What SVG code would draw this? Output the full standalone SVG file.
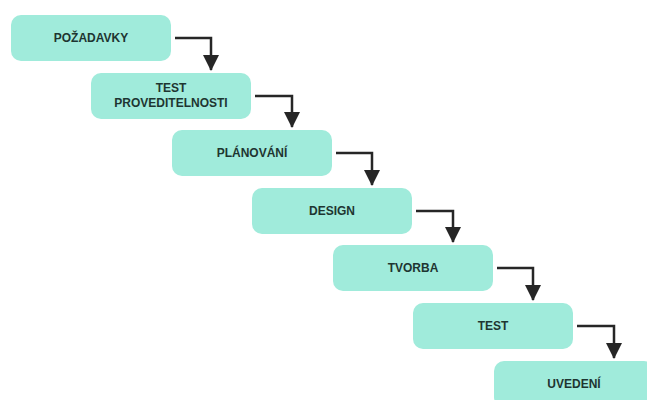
<svg xmlns="http://www.w3.org/2000/svg" width="647" height="400" viewBox="0 0 647 400">
  <style>
    .box { fill: #a0ebdb; }
    .lbl { font-family: "Liberation Sans", Arial, sans-serif; font-weight: bold; font-size: 12px; fill: #1e3531; text-anchor: middle; }
    .conn { fill: none; stroke: #262626; stroke-width: 2.5; }
  </style>
  <defs>
    <marker id="arrow" markerUnits="userSpaceOnUse" markerWidth="18" markerHeight="16" refX="15" refY="8" orient="auto">
      <path d="M0,0 L16,8 L0,16 Z" fill="#262626"/>
    </marker>
  </defs>
  <rect width="647" height="400" fill="#ffffff"/>

  <g id="connectors">
    <path class="conn" d="M175,38 H211 V70" marker-end="url(#arrow)"/>
    <path class="conn" d="M255,96 H292 V127" marker-end="url(#arrow)"/>
    <path class="conn" d="M336,153 H372 V185" marker-end="url(#arrow)"/>
    <path class="conn" d="M416,211 H453 V242" marker-end="url(#arrow)"/>
    <path class="conn" d="M497,268 H533 V300" marker-end="url(#arrow)"/>
    <path class="conn" d="M577,326 H614 V358" marker-end="url(#arrow)"/>
  </g>

  <g id="pozadavky">
    <rect class="box" x="11" y="15" width="160" height="46" rx="10"/>
    <text class="lbl" x="91" y="42">POŽADAVKY</text>
  </g>
  <g id="test-proveditelnosti">
    <rect class="box" x="91" y="73" width="160" height="46" rx="10"/>
    <text class="lbl" x="171" y="92">TEST</text>
    <text class="lbl" x="171" y="107">PROVEDITELNOSTI</text>
  </g>
  <g id="planovani">
    <rect class="box" x="172" y="130" width="160" height="46" rx="10"/>
    <text class="lbl" x="252" y="157">PLÁNOVÁNÍ</text>
  </g>
  <g id="design">
    <rect class="box" x="252" y="188" width="160" height="46" rx="10"/>
    <text class="lbl" x="332" y="215">DESIGN</text>
  </g>
  <g id="tvorba">
    <rect class="box" x="333" y="245" width="160" height="46" rx="10"/>
    <text class="lbl" x="413" y="272">TVORBA</text>
  </g>
  <g id="test">
    <rect class="box" x="413" y="303" width="160" height="46" rx="10"/>
    <text class="lbl" x="493" y="330">TEST</text>
  </g>
  <g id="uvedeni">
    <rect class="box" x="494" y="361" width="160" height="46" rx="10"/>
    <text class="lbl" x="574" y="388">UVEDENÍ</text>
  </g>
</svg>
